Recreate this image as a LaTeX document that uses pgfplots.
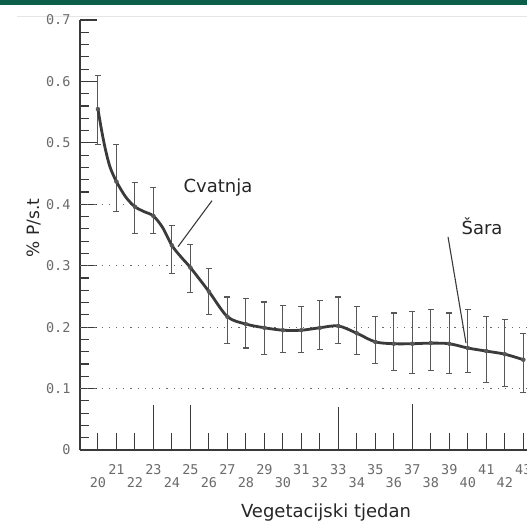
\documentclass[border=0pt]{standalone}
\usepackage{pgfplots}
\pgfplotsset{compat=1.18}
\usepackage{pgfplotstable}
\usepackage{fontspec}
\setmainfont{DejaVu Sans}
\newfontfamily\monof{DejaVu Sans Mono}
\definecolor{banner}{HTML}{0B5E47}
\definecolor{ink}{HTML}{3A3A3A}
\definecolor{tickc}{HTML}{6A6A6A}

\pgfplotstableread{
x y
20 0.555
20.2 0.52
20.4 0.49
20.65 0.461
21 0.437
21.5 0.412
22 0.396
22.5 0.388
23 0.381
23.5 0.362
24 0.333
24.5 0.314
25 0.297
26 0.258
27 0.217
28 0.205
29 0.199
30 0.195
31 0.195
32 0.199
33 0.202
34 0.190
35 0.176
36 0.173
37 0.173
38 0.174
39 0.173
40 0.166
41 0.161
42 0.156
43 0.147
}\curve

\pgfplotstableread{
x y ep em
20 0.555 0.054 0.057
21 0.437 0.060 0.049
22 0.396 0.040 0.044
23 0.381 0.047 0.029
24 0.333 0.032 0.046
25 0.297 0.037 0.041
26 0.258 0.038 0.038
27 0.217 0.032 0.043
28 0.205 0.042 0.039
29 0.199 0.042 0.043
30 0.195 0.040 0.037
31 0.195 0.038 0.037
32 0.199 0.044 0.036
33 0.202 0.047 0.028
34 0.190 0.043 0.035
35 0.176 0.041 0.035
36 0.173 0.050 0.044
37 0.173 0.053 0.048
38 0.174 0.054 0.045
39 0.173 0.050 0.048
40 0.166 0.062 0.040
41 0.161 0.057 0.051
42 0.156 0.057 0.053
43 0.147 0.043 0.053
}\errs

\pgfplotstableread{
x y
20 0.027
21 0.027
22 0.027
23 0.074
24 0.027
25 0.073
26 0.027
27 0.027
28 0.027
29 0.027
30 0.027
31 0.027
32 0.027
33 0.070
34 0.027
35 0.027
36 0.027
37 0.075
38 0.027
39 0.027
40 0.027
41 0.027
42 0.027
43 0.027
}\comb

\begin{document}
\begin{tikzpicture}[x=1pt,y=1pt]
\useasboundingbox (0,0) rectangle (527,520);
\fill[banner] (0,515) rectangle (527,520);
\draw[black!10, line width=0.8pt] (17,504) -- (527,504);
\begin{axis}[
  at={(80pt,70pt)}, anchor=south west,
  width=447pt, height=430pt, scale only axis,
  xmin=19.03, xmax=43.2, ymin=0, ymax=0.7,
  axis x line=bottom, axis y line=left,
  axis line style={-, ink, line width=1.3pt},
  xtick={21,23,...,43},
  xticklabels={21,23,25,27,29,31,33,35,37,39,41,43},
  extra x ticks={20,22,...,42},
  extra x tick labels={20,22,24,26,28,30,32,34,36,38,40,42},
  extra x tick style={major tick length=0pt, xticklabel style={yshift=-13pt}},
  x tick style={draw=none},
  major x tick style={draw=none},
  xticklabel style={font=\monof\fontsize{13.5}{13.5}\selectfont, text=tickc, yshift=-11pt},
  ytick={0,0.1,0.2,0.3,0.4,0.5,0.6,0.7},
  yticklabels={0,0.1,0.2,0.3,0.4,0.5,0.6,0.7},
  yticklabel style={font=\monof\fontsize{13.5}{13.5}\selectfont, text=tickc, xshift=-6pt},
  minor y tick num=4,
  tick align=inside,
  major tick length=17pt, minor tick length=9pt,
  y tick style={ink, line width=1.2pt},
  clip=false,
]
% dotted reference lines
\addplot[tickc, line width=1.1pt, dash pattern=on 1.2pt off 6pt] coordinates {(19.03,0.1) (43.2,0.1)};
\addplot[tickc, line width=1.1pt, dash pattern=on 1.2pt off 6pt] coordinates {(19.03,0.2) (43.2,0.2)};
\addplot[tickc, line width=1.1pt, dash pattern=on 1.2pt off 6pt] coordinates {(19.03,0.3) (25.2,0.3)};
\addplot[tickc, line width=1.1pt, dash pattern=on 1.2pt off 6pt] coordinates {(19.03,0.4) (21.9,0.4)};
% bottom comb
\addplot[ycomb, ink, line width=1.1pt, mark=none] table {\comb};
% error bars
\addplot[ink!85, only marks, mark=none, forget plot,
  error bars/.cd, y dir=both, y explicit,
  error bar style={ink!85, line width=1.1pt},
  error mark options={draw=ink!85, line width=1.1pt, mark size=3pt, rotate=90}]
  table[x=x, y=y, y error plus=ep, y error minus=em] {\errs};
% main curve
\addplot[ink, line width=2.8pt, smooth, tension=0.5, mark=none] table {\curve};
% annotation pointers
\addplot[ink, line width=1.1pt] coordinates {(26.17,0.406) (24.33,0.331)};
\addplot[ink, line width=1.1pt] coordinates {(38.93,0.347) (39.9,0.174)};
\node[font=\fontsize{18}{18}\selectfont, text=black!85] at (axis cs:26.49,0.427) {Cvatnja};
\node[font=\fontsize{18}{18}\selectfont, text=black!85] at (axis cs:40.77,0.365) {Šara};
\end{axis}
\node[font=\fontsize{18}{18}\selectfont, text=black!85, anchor=base] at (326,2.5) {Vegetacijski tjedan};
\node[font=\fontsize{17}{17}\selectfont, text=black!85, anchor=base, rotate=90] at (39,292) {\% P/s.t};
\end{tikzpicture}
\end{document}
